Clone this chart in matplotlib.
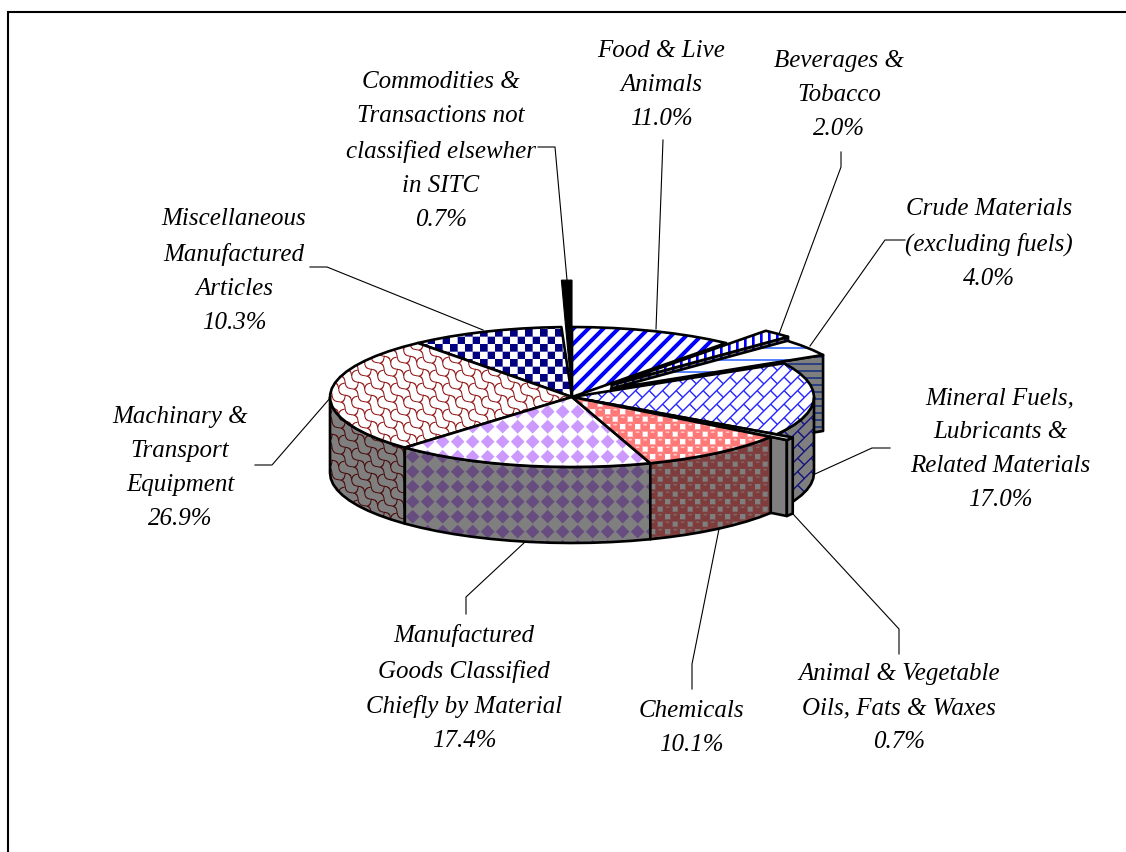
import numpy as np
import matplotlib
matplotlib.use("Agg")
import matplotlib.pyplot as plt
from matplotlib.patches import Polygon

# share of each category, clockwise from 12 o'clock
names = [
    ["Food & Live", "Animals"],
    ["Beverages &", "Tobacco"],
    ["Crude Materials", "(excluding fuels)"],
    ["Mineral Fuels,", "Lubricants &", "Related Materials"],
    ["Animal & Vegetable", "Oils, Fats & Waxes"],
    ["Chemicals"],
    ["Manufactured", "Goods Classified", "Chiefly by Material"],
    ["Machinary &", "Transport", "Equipment"],
    ["Miscellaneous", "Manufactured", "Articles"],
    ["Commodities &", "Transactions not", "classified elsewher", "in SITC"],
]
values = [11.0, 2.0, 4.0, 17.0, 0.7, 10.1, 17.4, 26.9, 10.3, 0.7]
explode = [0, 0.24, 0.2, 0, 0.08, 0, 0, 0, 0, 0]

# label centre (pixels) and leader line for each category
label_pos = [(661, 85), (839, 95), (989, 244), (1000, 449), (899, 708),
             (691, 728), (464, 688), (180, 468), (234, 271), (441, 151)]
leaders = [
    [(663, 141), (656, 330)],
    [(841, 153), (841, 168), (779, 335)],
    [(905, 241), (885, 241), (810, 347)],
    [(890, 449), (872, 449), (815, 475)],
    [(899, 655), (899, 630), (793, 515)],
    [(692, 690), (692, 665), (719, 530)],
    [(466, 615), (466, 598), (525, 543)],
    [(255, 466), (272, 466), (331, 398)],
    [(310, 268), (327, 268), (483, 331)],
    [(538, 148), (555, 148), (567, 281)],
]

W, H = 1126, 853
CX, CY, A, B, DEPTH = 572, 398, 242, 70, 76


# --- fill patterns, worked out per pixel (3x then averaged)
yy, xx = np.mgrid[0:H * 3, 0:W * 3] / 3.0


def paint(mask, colour):
    out = np.ones(mask.shape + (3,)) * 255
    out[mask] = colour
    return out


def shrink(img):
    h, w = img.shape[:2]
    return img.reshape(h // 3, 3, w // 3, 3, 3).mean(axis=(1, 3)) / 255.0


def tex_food():
    return paint((xx + yy) % 15 < 5.5, (0, 0, 255))


def tex_bev():
    return paint(xx % 8 < 2.6, (0, 0, 255))


def tex_crude(period):
    return paint(yy % period < 2, (90, 130, 255))


def tex_mineral():
    row = np.floor((xx + yy) / 13.5)
    e = (xx - yy + 13.5 * (row % 2)) % 27
    m = ((xx + yy) % 13.5 < 2.0) | (e < 2.0)
    return paint(m, (40, 40, 255))


def tex_chem():
    out = np.ones(xx.shape + (3,)) * (255, 140, 140)
    for ox, oy in ((0, 0), (7.5, 7.5)):
        px = (xx + ox) % 15 - 7.5
        py = (yy + oy) % 15 - 7.5
        out[(np.abs(px) < 2.6) & (np.abs(py) < 2.6)] = (255, 255, 255)
    for ox, oy in ((7.5, 0), (0, 7.5)):
        px = (xx + ox) % 15 - 7.5
        py = (yy + oy) % 15 - 7.5
        out[px ** 2 + py ** 2 < 5.0 ** 2] = (255, 120, 120)
        out[px ** 2 / 4 + (py + 2) ** 2 < 1.0] = (255, 195, 195)
    return out


def tex_goods():
    gx = (xx % 15) - 7.5
    gy = (yy % 15) - 7.5
    return paint(np.abs(gx) + np.abs(gy) < 7.0, (204, 153, 255))


def tex_mach():
    u = xx - yy + 3.0 * np.sin(2 * np.pi * (xx + yy) / 26)
    v = xx + yy + 3.0 * np.sin(2 * np.pi * (xx - yy) / 26)
    row = np.floor(u / 13)
    m = (u % 13 < 1.8) | ((v + 13 * (row % 2)) % 26 < 1.8)
    return paint(m, (150, 30, 30))


def tex_misc():
    m = ((xx // 7.5 + yy // 7.5) % 2) == 0
    return paint(m, (0, 0, 128))


def tex_plain():
    return np.ones(xx.shape + (3,)) * 255


tops = [tex_food(), tex_bev(), tex_crude(12), tex_mineral(), tex_plain(),
        tex_chem(), tex_goods(), tex_mach(), tex_misc()]
tops = [shrink(t) for t in tops]
walls = [t * 0.5 for t in tops]
walls[2] = shrink(tex_crude(7)) * 0.5

# --- geometry from the values
edges = np.concatenate([[0], np.cumsum(values)]) / sum(values) * 360.0


def point(theta, ox=0.0, oy=0.0):
    t = np.radians(theta)
    return np.column_stack([CX + ox + A * np.sin(t), CY + oy - B * np.cos(t)])


fig = plt.figure(figsize=(W / 100, H / 100), dpi=100)
ax = fig.add_axes([0, 0, 1, 1])
ax.axis("off")

# chart frame, only top and left fall inside the picture
ax.plot([8, 8, W], [H, 13, 13], color="black", lw=1.5, zorder=1,
        solid_joinstyle="miter")

for path in leaders:
    xs, ys = zip(*path)
    ax.plot(xs, ys, color="black", lw=0.8, zorder=2)

z = [3]


def fill(poly, image):
    z[0] += 1
    im = ax.imshow(image, extent=(0, W, H, 0), interpolation="nearest",
                   aspect="auto", zorder=z[0])
    patch = Polygon(poly, closed=True, transform=ax.transData)
    im.set_clip_path(patch)
    z[0] += 1
    ax.add_patch(Polygon(poly, closed=True, fill=False, edgecolor="black",
                         lw=1.9, joinstyle="round", zorder=z[0]))


def draw_slice(i):
    a0, a1 = edges[i], edges[i + 1]
    mid = (a0 + a1) / 2
    t = np.radians(mid)
    ox = explode[i] * A * np.sin(t)
    oy = -explode[i] * B * np.cos(t)
    apex = np.array([[CX + ox, CY + oy]])
    n = max(2, int((a1 - a0) / 5) + 2)
    arc = point(np.linspace(a0, a1, n), ox, oy)
    down = np.array([0, DEPTH])

    # cut face along the clockwise edge, for pulled out slices
    if explode[i] > 0:
        end = arc[-1:]
        face = np.vstack([apex, end, end + down, apex + down])
        fill(face, walls[i])
    # outer wall, only the part that faces the viewer
    lo, hi = max(a0, 90), min(a1, 270)
    if hi > lo:
        n = max(2, int((hi - lo) / 5) + 2)
        wall = point(np.linspace(lo, hi, n), ox, oy)
        fill(np.vstack([wall, (wall + down)[::-1]]), walls[i])
    fill(np.vstack([apex, arc]), tops[i])


# back to front
for i in [1, 2, 3, 4, 0, 8, 7, 6, 5]:
    draw_slice(i)

# the last sliver stands well out behind the pie
i = 9
arc = point(np.linspace(edges[i], edges[i + 1], 3), 0, -0.67 * B)
ax.add_patch(Polygon(np.vstack([[[CX, CY]], arc]), closed=True, facecolor="black",
                     edgecolor="black", lw=0.8, zorder=z[0] + 1))

for name, val, (x, y) in zip(names, values, label_pos):
    txt = "\n".join(name + ["%.1f%%" % val])
    ax.text(x, y, txt, ha="center", va="center", style="italic",
            family="Liberation Serif", fontsize=18, linespacing=1.70,
            color="black", zorder=z[0] + 2)

ax.set_xlim(0, W)
ax.set_ylim(H, 0)
fig.savefig("out.png", dpi=100, facecolor="white")
